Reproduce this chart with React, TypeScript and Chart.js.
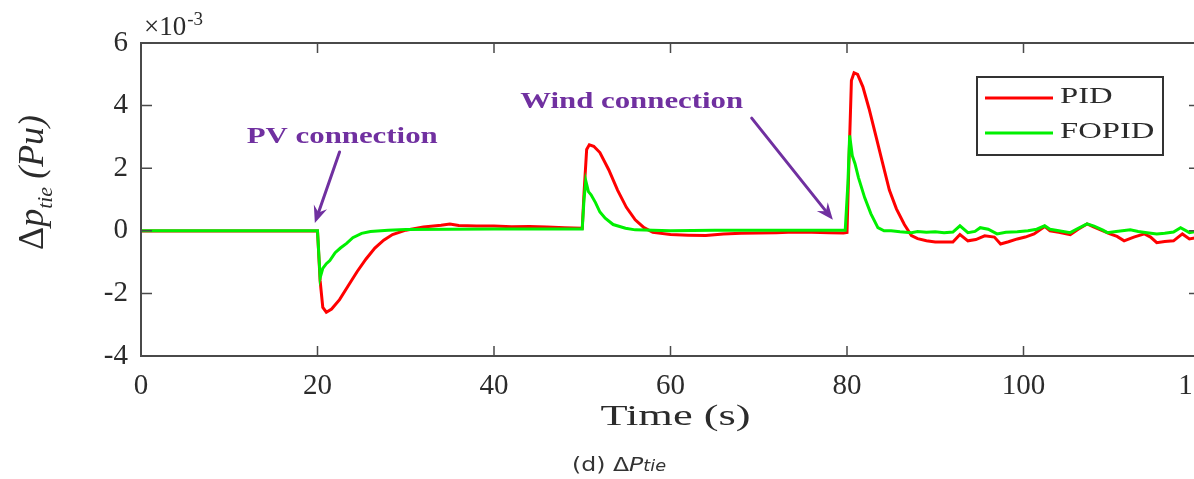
import React, { useEffect, useRef } from "react";
import { Chart, registerables } from "chart.js";

Chart.register(...registerables);

// Tie-line power deviation (×10^-3 pu) after PV and wind connection events
const pidTime = [
  0, 20, 20.3, 20.6, 21.0, 21.6, 22.5, 23.5, 24.5, 25.5, 26.5, 27.5, 28.5, 30, 32, 34, 35, 36, 38, 40, 42, 44,
  46, 48, 50, 50.2, 50.5, 50.8, 51.3, 52, 53, 54, 55, 56, 57, 58, 60, 62, 64, 66, 68, 70, 72, 74, 76, 78, 79.6,
  80, 80.2, 80.5, 80.8, 81.2, 81.8, 82.5, 83.3, 84, 84.8, 85.6, 86.5, 87.3, 88, 89, 90, 91, 92, 92.8, 93.7,
  94.6, 95.6, 96.7, 97.4, 98.3, 99.3, 100.2, 101.2, 102.4, 103, 104, 105.3, 106.2, 107.2, 108, 109, 109.8,
  110.6, 111.4, 112.5, 113.7, 114.4, 115.1, 116, 117, 118, 118.8, 120,
];
const pidValues = [
  -0.01, -0.01, -1.6, -2.45, -2.6, -2.5, -2.2, -1.75, -1.3, -0.9, -0.55, -0.3, -0.12, 0.02, 0.12, 0.18, 0.22,
  0.17, 0.15, 0.15, 0.13, 0.14, 0.12, 0.1, 0.08, 1.2, 2.6, 2.75, 2.7, 2.5, 1.95, 1.3, 0.75, 0.35, 0.1, -0.05,
  -0.12, -0.14, -0.15, -0.1, -0.08, -0.07, -0.06, -0.04, -0.05, -0.06, -0.07, -0.05, 2.0, 4.8, 5.05, 5.0, 4.6,
  3.9, 3.0, 2.2, 1.3, 0.7, 0.2, -0.15, -0.25, -0.32, -0.36, -0.36, -0.36, -0.12, -0.32, -0.28, -0.16, -0.2,
  -0.42, -0.35, -0.26, -0.2, -0.1, 0.14, 0.0, -0.05, -0.12, 0.05, 0.22, 0.12, 0.0, -0.1, -0.18, -0.32, -0.2,
  -0.1, -0.2, -0.38, -0.34, -0.32, -0.1, -0.26, -0.2,
];

const fopidTime = [
  0, 20, 20.3, 20.6, 21.0, 21.4, 22, 22.6, 23.3, 24, 25, 26, 28, 30, 35, 40, 45, 50, 50.2, 50.4, 50.7, 51.0,
  51.5, 52, 52.6, 53.5, 54.9, 56, 60, 65, 70, 75, 79.8, 80.1, 80.3, 80.6, 80.9, 81.3, 82, 82.7, 83.5, 84.2, 85,
  86, 87.3, 88, 89, 90, 91, 92, 92.8, 93.7, 94.5, 95.1, 96, 97, 98, 99.3, 100.5, 101.5, 102.4, 103, 104, 105.3,
  106.2, 107.2, 108, 109, 109.5, 110.5, 112.1, 113, 114, 115.1, 116, 117, 117.8, 118.8, 120,
];
const fopidValues = [
  0, 0, -1.5, -1.2, -1.05, -0.95, -0.7, -0.55, -0.4, -0.22, -0.08, -0.02, 0.02, 0.04, 0.05, 0.06, 0.06, 0.06,
  1.0, 1.6, 1.25, 1.15, 0.9, 0.6, 0.4, 0.2, 0.08, 0.03, 0.0, 0.02, 0.02, 0.02, 0.02, 1.5, 3.05, 2.4, 2.15, 1.7,
  1.06, 0.55, 0.1, 0.0, 0.0, -0.03, -0.06, -0.02, -0.05, -0.03, -0.06, -0.04, 0.16, -0.06, -0.02, 0.1, 0.05,
  -0.1, -0.05, -0.03, 0.0, 0.05, 0.16, 0.05, 0.0, -0.06, 0.08, 0.22, 0.15, 0.02, -0.06, -0.02, 0.03, -0.02,
  -0.06, -0.1, -0.08, -0.04, 0.1, -0.06, 0.0,
];

const seriesLabels = ["PID", "FOPID"];
const seriesColors = ["#ff0000", "#00f000"];
const xTickValues = [0, 20, 40, 60, 80, 100, 120];
const yTickValues = [-4, -2, 0, 2, 4, 6];

// Event labels with arrows, anchored in data units (time, value)
const eventNotes = [
  { label: "PV connection", text: [22.8, 2.8], from: [22.5, 2.52], to: [19.7, 0.25], width: 191 },
  { label: "Wind connection", text: [55.6, 3.92], from: [69.2, 3.6], to: [78.4, 0.35], width: 223 },
];

const W = 1240;
const H = 479;
const AXIS = "#4a4a4a";
const INK = "#2b2b2b";
const PURPLE = "#7030a0";
const SERIF = '"Liberation Serif", "Times New Roman", serif';

function stretchedText(
  ctx: CanvasRenderingContext2D,
  text: string,
  x: number,
  y: number,
  font: string,
  width: number,
  align: "left" | "center"
) {
  ctx.save();
  ctx.font = font;
  const w = ctx.measureText(text).width;
  const sx = width / w;
  ctx.translate(align === "center" ? x - width / 2 : x, y);
  ctx.scale(sx, 1);
  ctx.textAlign = "left";
  ctx.textBaseline = "alphabetic";
  ctx.fillText(text, 0, 0);
  ctx.restore();
}

function arrow(ctx: CanvasRenderingContext2D, x1: number, y1: number, x2: number, y2: number) {
  const ang = Math.atan2(y2 - y1, x2 - x1);
  const headLen = 17;
  const headHalf = 7;
  const bx = x2 - Math.cos(ang) * headLen;
  const by = y2 - Math.sin(ang) * headLen;
  ctx.save();
  ctx.strokeStyle = PURPLE;
  ctx.fillStyle = PURPLE;
  ctx.lineWidth = 3;
  ctx.lineCap = "round";
  ctx.beginPath();
  ctx.moveTo(x1, y1);
  ctx.lineTo(x2 - Math.cos(ang) * 8, y2 - Math.sin(ang) * 8);
  ctx.stroke();
  const nx = -Math.sin(ang);
  const ny = Math.cos(ang);
  ctx.beginPath();
  ctx.moveTo(x2, y2);
  ctx.lineTo(bx + nx * headHalf, by + ny * headHalf);
  ctx.lineTo(x2 - Math.cos(ang) * 11, y2 - Math.sin(ang) * 11);
  ctx.lineTo(bx - nx * headHalf, by - ny * headHalf);
  ctx.closePath();
  ctx.fill();
  ctx.restore();
}

const decorPlugin = {
  id: "decor",
  afterDatasetsDraw(chart: any) {
    const ctx: CanvasRenderingContext2D = chart.ctx;
    const { left, right, top, bottom } = chart.chartArea;
    const xs = chart.scales.x;
    const ys = chart.scales.y;

    // frame with inward ticks
    ctx.save();
    ctx.strokeStyle = AXIS;
    ctx.lineWidth = 2;
    ctx.strokeRect(left, top, right - left, bottom - top);
    ctx.lineWidth = 1.5;
    ctx.beginPath();
    for (const v of xTickValues) {
      const px = xs.getPixelForValue(v);
      ctx.moveTo(px, bottom);
      ctx.lineTo(px, bottom - 10);
      ctx.moveTo(px, top);
      ctx.lineTo(px, top + 10);
    }
    for (const v of yTickValues) {
      const py = ys.getPixelForValue(v);
      ctx.moveTo(left, py);
      ctx.lineTo(left + 11, py);
      ctx.moveTo(right, py);
      ctx.lineTo(right - 11, py);
    }
    ctx.stroke();
    ctx.restore();

    // exponent marker
    ctx.save();
    ctx.fillStyle = INK;
    ctx.font = `27px ${SERIF}`;
    ctx.textBaseline = "alphabetic";
    ctx.fillText("\u00d710", left + 3, top - 8);
    const w10 = ctx.measureText("\u00d710").width;
    ctx.font = `19px ${SERIF}`;
    ctx.fillText("-3", left + 3 + w10 + 1, top - 18);
    ctx.restore();

    // y axis title: Δp_tie (Pu)
    ctx.save();
    ctx.fillStyle = INK;
    ctx.translate(43, 250);
    ctx.rotate(-Math.PI / 2);
    ctx.textBaseline = "alphabetic";
    let cx = 0;
    const seg = (t: string, font: string, dy: number) => {
      ctx.font = font;
      ctx.fillText(t, cx, dy);
      cx += ctx.measureText(t).width;
    };
    seg("\u0394", `36px ${SERIF}`, 0);
    seg("p", `italic 36px ${SERIF}`, 0);
    seg("tie", `italic 22px ${SERIF}`, 9);
    cx += 8;
    seg("(Pu)", `italic 36px ${SERIF}`, 0);
    ctx.restore();

    // x axis title
    ctx.fillStyle = INK;
    stretchedText(ctx, "Time (s)", (left + right) / 2 + 5, 425, `29px ${SERIF}`, 150, "center");

    // legend
    ctx.save();
    const lx = 977;
    const ly = 77;
    ctx.fillStyle = "#ffffff";
    ctx.fillRect(lx, ly, 186, 78);
    ctx.strokeStyle = "#333333";
    ctx.lineWidth = 2;
    ctx.strokeRect(lx, ly, 186, 78);
    const rows = [98, 133];
    seriesLabels.forEach((name, i) => {
      ctx.strokeStyle = seriesColors[i];
      ctx.lineWidth = 3;
      ctx.beginPath();
      ctx.moveTo(lx + 8, rows[i]);
      ctx.lineTo(lx + 76, rows[i]);
      ctx.stroke();
      ctx.fillStyle = INK;
      ctx.font = `24px ${SERIF}`;
      const w = ctx.measureText(name).width;
      stretchedText(ctx, name, lx + 83, rows[i] + 5, `24px ${SERIF}`, w * 1.36, "left");
    });
    ctx.restore();

    // event annotations
    for (const note of eventNotes) {
      const tx = xs.getPixelForValue(note.text[0]);
      const ty = ys.getPixelForValue(note.text[1]);
      ctx.fillStyle = PURPLE;
      stretchedText(ctx, note.label, tx, ty, `bold 24px ${SERIF}`, note.width, "center");
      arrow(
        ctx,
        xs.getPixelForValue(note.from[0]),
        ys.getPixelForValue(note.from[1]),
        xs.getPixelForValue(note.to[0]),
        ys.getPixelForValue(note.to[1])
      );
    }

    // caption: (d) ΔPtie
    ctx.save();
    ctx.fillStyle = "#333333";
    ctx.translate(572, 471);
    ctx.scale(1.18, 1);
    ctx.textBaseline = "alphabetic";
    let px = 0;
    const cap = (t: string, font: string) => {
      ctx.font = font;
      ctx.fillText(t, px, 0);
      px += ctx.measureText(t).width;
    };
    cap("(d) ", '20px "DejaVu Sans"');
    cap("\u0394", '20px "DejaVu Sans"');
    cap("P", 'italic 20px "DejaVu Sans"');
    cap("tie", 'italic 15px "DejaVu Sans"');
    ctx.restore();
  },
};

export default function App() {
  const canvasRef = useRef<HTMLCanvasElement | null>(null);

  useEffect(() => {
    const canvas = canvasRef.current;
    if (!canvas) return;
    const chart = new Chart(canvas, {
      type: "line",
      data: {
        datasets: [
          {
            label: seriesLabels[0],
            data: pidTime.map((t, i) => ({ x: t, y: pidValues[i] })),
            borderColor: seriesColors[0],
            borderWidth: 3,
            pointRadius: 0,
            tension: 0,
            order: 1,
          },
          {
            label: seriesLabels[1],
            data: fopidTime.map((t, i) => ({ x: t, y: fopidValues[i] })),
            borderColor: seriesColors[1],
            borderWidth: 3,
            pointRadius: 0,
            tension: 0,
            order: 0,
          },
        ],
      },
      options: {
        responsive: false,
        animation: false,
        devicePixelRatio: 1,
        events: [],
        layout: { padding: { top: 43, right: W - 1200, left: 0, bottom: 0 } },
        plugins: { legend: { display: false }, tooltip: { enabled: false } },
        scales: {
          x: {
            type: "linear",
            min: 0,
            max: 120,
            afterBuildTicks: (s: any) => {
              s.ticks = xTickValues.map((v) => ({ value: v }));
            },
            afterFit: (s: any) => {
              s.height = H - 356;
            },
            grid: { display: false, drawTicks: false },
            border: { display: false },
            ticks: {
              padding: 13,
              color: INK,
              maxRotation: 0,
              autoSkip: false,
              font: { family: SERIF, size: 29 },
            },
          },
          y: {
            type: "linear",
            min: -4,
            max: 6,
            afterBuildTicks: (s: any) => {
              s.ticks = yTickValues.map((v) => ({ value: v }));
            },
            afterFit: (s: any) => {
              s.width = 141;
            },
            grid: { display: false, drawTicks: false },
            border: { display: false },
            ticks: {
              padding: 13,
              color: INK,
              autoSkip: false,
              font: { family: SERIF, size: 29 },
            },
          },
        },
      },
      plugins: [decorPlugin],
    });
    return () => chart.destroy();
  }, []);

  return (
    <div
      style={{
        position: "absolute",
        left: 0,
        top: 0,
        width: 1194,
        height: H,
        overflow: "hidden",
        background: "#ffffff",
      }}
    >
      <canvas ref={canvasRef} width={W} height={H} style={{ display: "block" }} />
    </div>
  );
}
